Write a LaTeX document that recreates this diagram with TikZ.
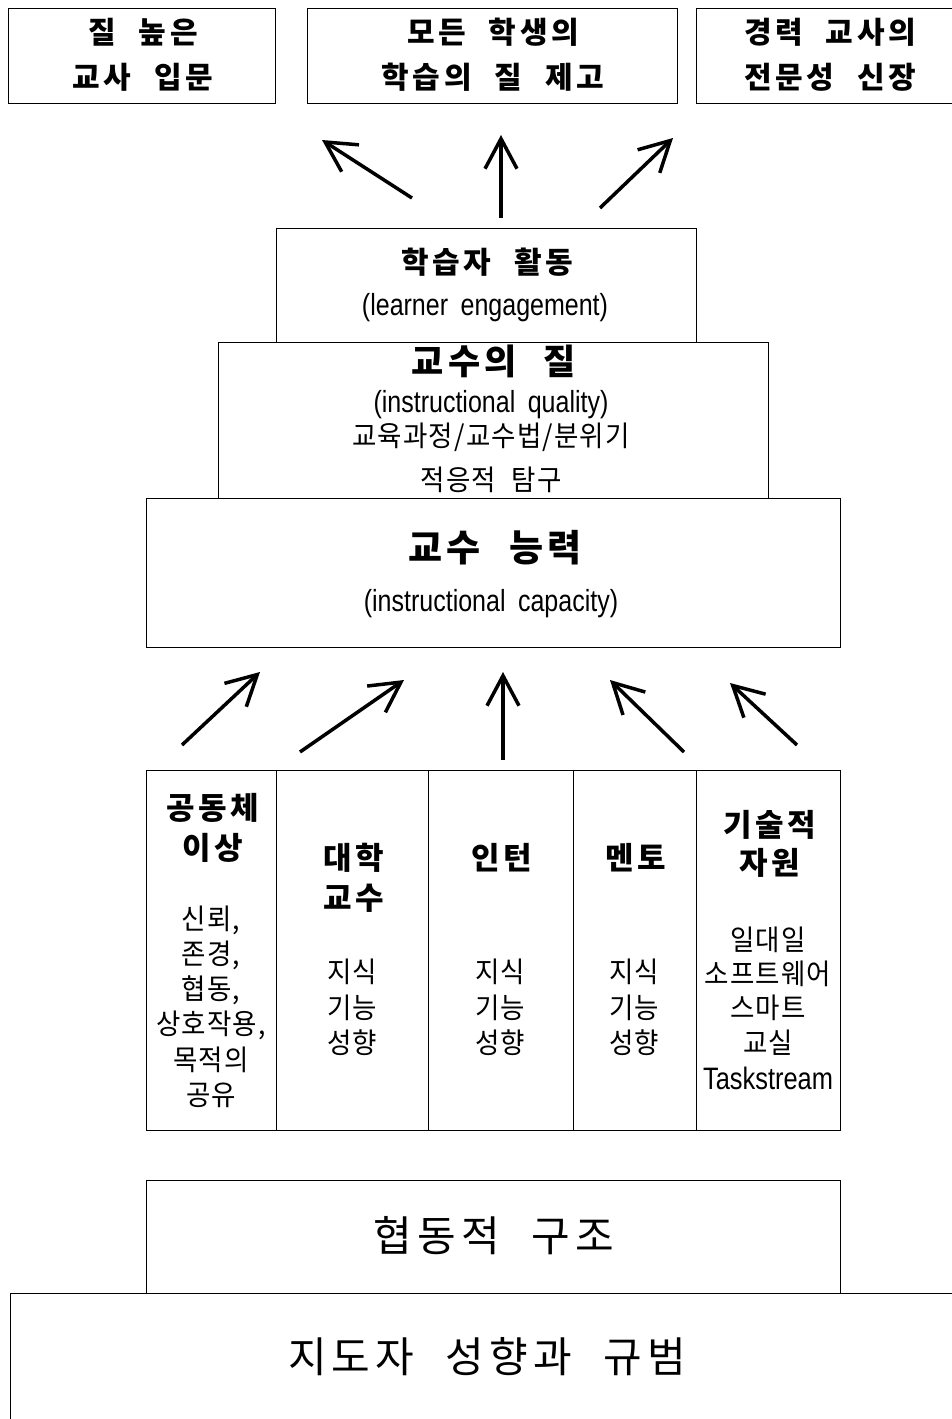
\documentclass[tikz,border=0pt]{standalone}
\usepackage{fontspec}
\setmainfont{Noto Sans CJK KR}
\newfontfamily\krb[LetterSpace=12,WordSpace=2.3]{Noto Sans CJK KR}
\newfontfamily\krr[FakeStretch=0.93,LetterSpace=4,WordSpace=2.2]{Noto Sans CJK KR}
\newfontfamily\krh[LetterSpace=12,WordSpace=2.2]{Noto Sans CJK KR}
\newfontfamily\lat[FakeStretch=0.82,WordSpace=1.8]{Liberation Sans}
\usetikzlibrary{arrows.meta}
\begin{document}
\begin{tikzpicture}[x=1pt,y=-1pt,
  box/.style={draw=black,line width=0.9pt,inner sep=0pt,anchor=north west},
  txt/.style={inner sep=0pt,anchor=center},
  topt/.style={txt,font=\krb\bfseries\fontsize{30}{34}\selectfont},
  midt/.style={txt,font=\krb\bfseries\fontsize{30}{34}\selectfont},
  qualt/.style={txt,font=\krb\bfseries\fontsize{35}{39}\selectfont},
  bigt/.style={txt,font=\krb\bfseries\fontsize{37}{42}\selectfont},
  latt/.style={txt,font=\lat\fontsize{30.5}{34}\selectfont},
  body/.style={txt,font=\krr\fontsize{28.5}{32}\selectfont},
  colh/.style={txt,font=\krb\bfseries\fontsize{31}{35}\selectfont},
  huge/.style={txt,font=\krh\fontsize{42}{48}\selectfont},
  arr/.style={line width=3.5pt,-{Straight Barb[length=30pt,width=32pt,line width=3.5pt]}}]
\useasboundingbox (0,0) rectangle (951,1419);
% top outcome boxes
\node[box,minimum width=267,minimum height=95] (o1) at (8,8) {};
\node[box,minimum width=370,minimum height=95] (o2) at (307,8) {};
\node[box,minimum width=258,minimum height=95] (o3) at (696,8) {};
\node[topt] (o1a) at (143,32) {질 높은};
\node[topt] (o1b) at (143,77) {교사 입문};
\node[topt] (o2a) at (493,32) {모든 학생의};
\node[topt] (o2b) at (493,77) {학습의 질 제고};
\node[topt] (o3a) at (830,32) {경력 교사의};
\node[topt] (o3b) at (830,77) {전문성 신장};
% top arrows
\coordinate (a1s) at (412,198); \coordinate (a1e) at (322,140);
\coordinate (a2s) at (501,218); \coordinate (a2e) at (501,135);
\coordinate (a3s) at (600,208); \coordinate (a3e) at (673,138);
\draw[arr] (a1s) -- (a1e);
\draw[arr] (a2s) -- (a2e);
\draw[arr] (a3s) -- (a3e);
% pyramid
\node[box,minimum width=420,minimum height=114] (le) at (276,228) {};
\node[midt] (le1) at (487,262) {학습자 활동};
\node[latt] (le2) at (485,308) {(learner engagement)};
\node[box,minimum width=550,minimum height=156] (iq) at (218,342) {};
\node[qualt] (iq1) at (494,361) {교수의 질};
\node[latt] (iq2) at (491,405) {(instructional quality)};
\node[body] (iq3) at (491,437) {교육과정/교수법/분위기};
\node[body] (iq4) at (491,480) {적응적 탐구};
\node[box,minimum width=694,minimum height=149] (ic) at (146,498) {};
\node[bigt] (ic1) at (495,548) {교수 능력};
\node[latt] (ic2) at (491,604) {(instructional capacity)};
% middle arrows
\coordinate (b1s) at (182,745); \coordinate (b1e) at (260,672);
\coordinate (b2s) at (300,752); \coordinate (b2e) at (404,680);
\coordinate (b3s) at (503,760); \coordinate (b3e) at (503,672);
\coordinate (b4s) at (684,752); \coordinate (b4e) at (610,680);
\coordinate (b5s) at (797,745); \coordinate (b5e) at (730,683);
\draw[arr] (b1s) -- (b1e);
\draw[arr] (b2s) -- (b2e);
\draw[arr] (b3s) -- (b3e);
\draw[arr] (b4s) -- (b4e);
\draw[arr] (b5s) -- (b5e);
% columns
\node[box,minimum width=130,minimum height=360] (c1) at (146,770) {};
\node[box,minimum width=152,minimum height=360] (c2) at (276,770) {};
\node[box,minimum width=145,minimum height=360] (c3) at (428,770) {};
\node[box,minimum width=123,minimum height=360] (c4) at (573,770) {};
\node[box,minimum width=144,minimum height=360] (c5) at (696,770) {};
\node[colh] (c1h1) at (213,808) {공동체};
\node[colh] (c1h2) at (213,848) {이상};
\foreach \t [count=\i] in {{신뢰,},{존경,},{협동,},{상호작용,},{목적의},{공유}}
  \node[body] (c1b\i) at (211,885+35*\i) {\t};
\node[colh] (c2h1) at (354,858) {대학};
\node[colh] (c2h2) at (354,898) {교수};
\node[colh] (c3h1) at (502,858) {인턴};
\node[colh] (c4h1) at (636,858) {멘토};
\foreach \x/\n in {352/2,500/3,634/4}{
  \node[body] (c\n b1) at (\x,972) {지식};
  \node[body] (c\n b2) at (\x,1008) {기능};
  \node[body] (c\n b3) at (\x,1043) {성향};
}
\node[colh] (c5h1) at (770,825) {기술적};
\node[colh] (c5h2) at (770,863) {자원};
\node[body] (c5b1) at (768,940) {일대일};
\node[body] (c5b2) at (768,974) {소프트웨어};
\node[body] (c5b3) at (768,1008) {스마트};
\node[body] (c5b4) at (768,1043) {교실};
\node[latt,font=\lat\fontsize{31}{34}\selectfont] (c5b5) at (768,1078) {Taskstream};
% base
\node[box,minimum width=694,minimum height=113] (cs) at (146,1180) {};
\node[huge] (cs1) at (494,1236) {협동적 구조};
\node[box,minimum width=950,minimum height=140] (ld) at (10,1293) {};
\node[huge] (ld1) at (487,1357) {지도자 성향과 규범};
\end{tikzpicture}
\end{document}
